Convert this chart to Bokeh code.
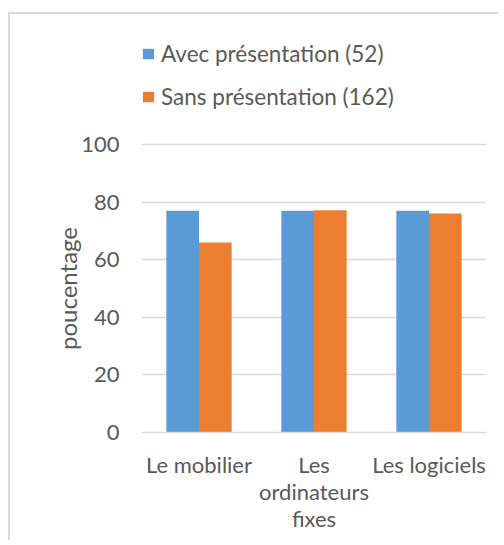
from bokeh.plotting import figure
from bokeh.models import ColumnDataSource, Range1d, FixedTicker, Legend, LegendItem
from bokeh.transform import dodge
from bokeh.embed import file_html
from bokeh.resources import INLINE

categories = ["Le mobilier", "Les\nordinateurs\nfixes", "Les logiciels"]
avec = [77, 77, 77]
sans = [66, 77.2, 76]
series_names = ["Avec présentation (52)", "Sans présentation (162)"]
y_ticks = [0, 20, 40, 60, 80, 100]
y_title = "poucentage"

BLUE = "#5b9bd5"
ORANGE = "#ed7d31"
TXT = "#595959"
GRID = "#d9d9d9"
FONT = "Lato"

src = ColumnDataSource(dict(cat=categories, avec=avec, sans=sans))

p = figure(width=490, height=528, x_range=categories, y_range=Range1d(0, 143.75),
           output_backend="svg", toolbar_location=None,
           min_border_left=131, min_border_right=14, min_border_top=4, min_border_bottom=110)
p.outline_line_color = None
p.background_fill_color = "white"
p.border_fill_color = "white"
p.styles = {"border-left": "2px solid #d9d9d9", "border-top": "2px solid #d9d9d9",
            "margin-top": "12px", "margin-left": "8px"}

r1 = p.vbar(x=dodge("cat", -0.142, range=p.x_range), top="avec", width=0.284, source=src,
            fill_color=BLUE, line_color=None)
r2 = p.vbar(x=dodge("cat", 0.142, range=p.x_range), top="sans", width=0.284, source=src,
            fill_color=ORANGE, line_color=None)

# y axis
p.yaxis.ticker = FixedTicker(ticks=y_ticks)
p.yaxis.axis_line_color = None
p.yaxis.major_tick_line_color = None
p.yaxis.minor_tick_line_color = None
p.yaxis.major_tick_out = 0
p.yaxis.major_tick_in = 0
p.yaxis.major_label_standoff = 22
p.yaxis.major_label_text_font = FONT
p.yaxis.major_label_text_font_size = "22px"
p.yaxis.major_label_text_color = TXT
# trailing em spaces keep the title centred on the 0-100 scale rather than the whole frame
p.yaxis.axis_label = y_title + "\u2003" * 7
p.yaxis.axis_label_text_font = FONT
p.yaxis.axis_label_text_font_size = "24px"
p.yaxis.axis_label_text_font_style = "normal"
p.yaxis.axis_label_text_color = TXT
p.yaxis.axis_label_standoff = -4

# x axis
p.xaxis.axis_line_color = GRID
p.xaxis.axis_line_width = 1.5
p.xaxis.major_tick_line_color = None
p.xaxis.major_tick_out = 0
p.xaxis.major_tick_in = 0
p.xaxis.major_label_standoff = 18
p.xaxis.major_label_text_font = FONT
p.xaxis.major_label_text_font_size = "22px"
p.xaxis.major_label_text_color = TXT
p.xaxis.major_label_text_line_height = 1.0

p.xgrid.grid_line_color = None
p.ygrid.grid_line_color = GRID
p.ygrid.grid_line_width = 1.5

legend = Legend(items=[LegendItem(label=series_names[0], renderers=[r1]),
                       LegendItem(label=series_names[1], renderers=[r2])],
                location=(0, 322), orientation="vertical",
                glyph_width=14, glyph_height=13, label_standoff=6, spacing=16,
                padding=0, margin=0, border_line_color=None, background_fill_alpha=0,
                label_text_font=FONT, label_text_font_size="22.5px", label_text_color=TXT)
p.add_layout(legend, "center")

open("out.html", "w").write(file_html(p, INLINE))
